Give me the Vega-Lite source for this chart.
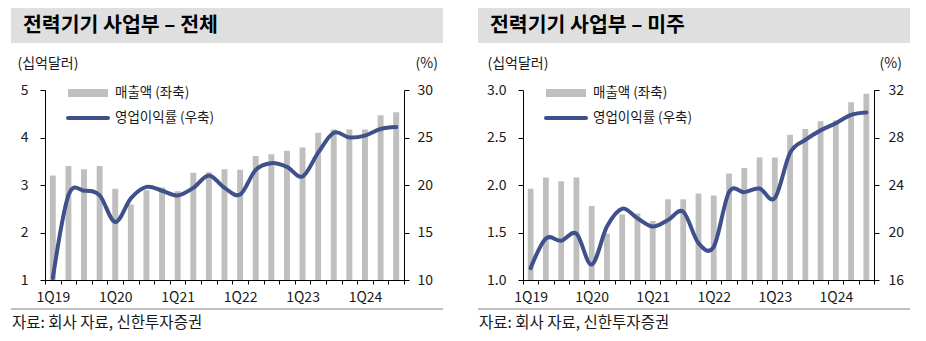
{
  "$schema": "https://vega.github.io/schema/vega-lite/v6.json",
  "padding": {"left": 11, "top": 8, "right": 5, "bottom": 5},
  "autosize": {"type": "pad"},
  "config": {
    "font": "Noto Sans CJK KR",
    "view": {"stroke": null},
    "axis": {"grid": false, "domainColor": "#000000", "tickColor": "#000000", "labelColor": "#1a1a1a", "titleColor": "#1a1a1a", "titleFontWeight": "normal", "labelFontSize": 14, "titleFontSize": 14}
  },
  "datasets": {
    "total": [
      {"q": "1Q19", "sales": 3.20, "margin": 10.2},
      {"q": "2Q19", "sales": 3.40, "margin": 18.9},
      {"q": "3Q19", "sales": 3.33, "margin": 19.4},
      {"q": "4Q19", "sales": 3.40, "margin": 18.9},
      {"q": "1Q20", "sales": 2.92, "margin": 16.1},
      {"q": "2Q20", "sales": 2.59, "margin": 18.6},
      {"q": "3Q20", "sales": 2.89, "margin": 19.8},
      {"q": "4Q20", "sales": 2.95, "margin": 19.4},
      {"q": "1Q21", "sales": 2.87, "margin": 18.9},
      {"q": "2Q21", "sales": 3.26, "margin": 19.7},
      {"q": "3Q21", "sales": 3.27, "margin": 21.0},
      {"q": "4Q21", "sales": 3.33, "margin": 19.7},
      {"q": "1Q22", "sales": 3.32, "margin": 19.0},
      {"q": "2Q22", "sales": 3.61, "margin": 21.6},
      {"q": "3Q22", "sales": 3.65, "margin": 22.3},
      {"q": "4Q22", "sales": 3.72, "margin": 21.9},
      {"q": "1Q23", "sales": 3.79, "margin": 20.9},
      {"q": "2Q23", "sales": 4.10, "margin": 23.4},
      {"q": "3Q23", "sales": 4.17, "margin": 25.5},
      {"q": "4Q23", "sales": 4.17, "margin": 25.0},
      {"q": "1Q24", "sales": 4.17, "margin": 25.2},
      {"q": "2Q24", "sales": 4.47, "margin": 25.9},
      {"q": "3Q24", "sales": 4.53, "margin": 26.1}
    ],
    "us": [
      {"q": "1Q19", "sales": 1.96, "margin": 17.0},
      {"q": "2Q19", "sales": 2.08, "margin": 19.5},
      {"q": "3Q19", "sales": 2.04, "margin": 19.3},
      {"q": "4Q19", "sales": 2.08, "margin": 19.9},
      {"q": "1Q20", "sales": 1.78, "margin": 17.3},
      {"q": "2Q20", "sales": 1.49, "margin": 20.5},
      {"q": "3Q20", "sales": 1.69, "margin": 22.0},
      {"q": "4Q20", "sales": 1.70, "margin": 21.2},
      {"q": "1Q21", "sales": 1.62, "margin": 20.5},
      {"q": "2Q21", "sales": 1.85, "margin": 21.05},
      {"q": "3Q21", "sales": 1.85, "margin": 21.75},
      {"q": "4Q21", "sales": 1.91, "margin": 19.1},
      {"q": "1Q22", "sales": 1.89, "margin": 18.8},
      {"q": "2Q22", "sales": 2.12, "margin": 23.4},
      {"q": "3Q22", "sales": 2.18, "margin": 23.4},
      {"q": "4Q22", "sales": 2.29, "margin": 23.7},
      {"q": "1Q23", "sales": 2.29, "margin": 22.9},
      {"q": "2Q23", "sales": 2.53, "margin": 26.7},
      {"q": "3Q23", "sales": 2.59, "margin": 27.8},
      {"q": "4Q23", "sales": 2.67, "margin": 28.6},
      {"q": "1Q24", "sales": 2.68, "margin": 29.2},
      {"q": "2Q24", "sales": 2.87, "margin": 29.9},
      {"q": "3Q24", "sales": 2.96, "margin": 30.1}
    ]
  },
  "spacing": 35,
  "resolve": {"scale": {"color": "independent"}, "legend": {"color": "independent"}},
  "hconcat": [
    {
      "concat": [
        {
          "width": 432, "height": 35,
          "view": {"fill": "#dfdfdf", "stroke": null},
          "data": {"values": []},
          "mark": "point", "encoding": {},
          "title": {"text": "전력기기 사업부 – 전체", "anchor": "start", "frame": "group", "orient": "top", "offset": -38, "dx": 12, "baseline": "middle", "fontSize": 20.5, "fontWeight": "bold", "color": "#000000"}
        },
        {
          "concat": [
            {
              "hconcat": [
                {"width": 6, "height": 1, "view": {"fill": "#ffffff", "stroke": null}, "data": {"values": []}, "mark": "point", "encoding": {}},
                {
                  "width": 359, "height": 190,
                  "data": {"name": "total"},
                  "encoding": {
                    "x": {"field": "q", "type": "ordinal",
                      "sort": ["1Q19","2Q19","3Q19","4Q19","1Q20","2Q20","3Q20","4Q20","1Q21","2Q21","3Q21","4Q21","1Q22","2Q22","3Q22","4Q22","1Q23","2Q23","3Q23","4Q23","1Q24","2Q24","3Q24"],
                      "scale": {"paddingInner": 0, "paddingOuter": 0},
                      "axis": {"title": null, "labelAngle": 0, "tickBand": "extent", "tickSize": 4, "labelPadding": 6, "labelOverlap": false, "labelExpr": "indexof(datum.label, '1Q') === 0 ? datum.label : ''"}}
                  },
                  "layer": [
                    {
                      "mark": {"type": "bar", "width": {"band": 0.38}, "clip": true},
                      "encoding": {
                        "y": {"field": "sales", "type": "quantitative", "scale": {"domain": [1, 5], "zero": false},
                          "axis": {"orient": "left", "values": [1, 2, 3, 4, 5], "tickSize": 5, "labelPadding": 12, "title": "(십억달러)", "titleAngle": 0, "titleAlign": "left", "titleBaseline": "middle", "titleX": -28, "titleY": -27}},
                        "color": {"datum": "매출액 (좌축)", "type": "nominal",
                          "scale": {"domain": ["매출액 (좌축)", "영업이익률 (우축)"], "range": ["#bfbfbf", "#40508a"]},
                          "legend": {"orient": "none", "legendX": 21, "legendY": -4.5, "title": null, "direction": "vertical", "symbolType": "stroke", "symbolSize": 1600, "symbolStrokeWidth": 4, "labelFontSize": 13.5, "labelColor": "#1a1a1a", "labelOffset": 5, "rowPadding": 10, "clipHeight": 15, "padding": 0,
                            "encode": {"symbols": {"update": {
                              "stroke": {"signal": "(datum.value === '매출액 (좌축)' ? '#bfbfbf' : '#40508a')"},
                              "strokeWidth": {"signal": "(datum.value === '매출액 (좌축)' ? 8 : 4)"},
                              "strokeCap": {"signal": "(datum.value === '매출액 (좌축)' ? 'butt' : 'round')"},
                              "fill": {"value": "transparent"},
                              "opacity": {"value": 1}}}}}}
                      }
                    },
                    {
                      "mark": {"type": "line", "interpolate": "cardinal", "strokeWidth": 4, "strokeCap": "round"},
                      "encoding": {
                        "y": {"field": "margin", "type": "quantitative", "scale": {"domain": [10, 30], "zero": false},
                          "axis": {"orient": "right", "values": [10, 15, 20, 25, 30], "tickSize": 5, "labelPadding": 8, "title": "(%)", "titleAngle": 0, "titleAlign": "left", "titleBaseline": "middle", "titleX": 11, "titleY": -27}},
                        "color": {"datum": "영업이익률 (우축)", "type": "nominal"}
                      }
                    }
                  ],
                  "resolve": {"scale": {"y": "independent"}}
                }
              ],
              "spacing": 0,
              "resolve": {"scale": {"color": "independent"}, "legend": {"color": "independent"}}
            },
            {
              "width": 432, "height": 2,
              "view": {"fill": "#c0c0c0", "stroke": null},
              "data": {"values": []},
              "mark": "point", "encoding": {},
              "title": {"text": "자료: 회사 자료, 신한투자증권", "orient": "bottom", "anchor": "start", "frame": "group", "offset": 13, "dx": 1, "baseline": "middle", "fontSize": 15.5, "fontWeight": "normal", "color": "#1a1a1a"}
            }
          ],
          "columns": 1, "align": "none", "spacing": 4,
          "resolve": {"scale": {"color": "independent"}, "legend": {"color": "independent"}}
        }
      ],
      "columns": 1, "align": "none", "spacing": 13,
      "resolve": {"scale": {"color": "independent"}, "legend": {"color": "independent"}}
    },
    {
      "concat": [
        {
          "width": 432, "height": 35,
          "view": {"fill": "#dfdfdf", "stroke": null},
          "data": {"values": []},
          "mark": "point", "encoding": {},
          "title": {"text": "전력기기 사업부 – 미주", "anchor": "start", "frame": "group", "orient": "top", "offset": -38, "dx": 12, "baseline": "middle", "fontSize": 20.5, "fontWeight": "bold", "color": "#000000"}
        },
        {
          "concat": [
            {
              "hconcat": [
                {"width": 8, "height": 1, "view": {"fill": "#ffffff", "stroke": null}, "data": {"values": []}, "mark": "point", "encoding": {}},
                {
                  "width": 351, "height": 190,
                  "data": {"name": "us"},
                  "encoding": {
                    "x": {"field": "q", "type": "ordinal",
                      "sort": ["1Q19","2Q19","3Q19","4Q19","1Q20","2Q20","3Q20","4Q20","1Q21","2Q21","3Q21","4Q21","1Q22","2Q22","3Q22","4Q22","1Q23","2Q23","3Q23","4Q23","1Q24","2Q24","3Q24"],
                      "scale": {"paddingInner": 0, "paddingOuter": 0},
                      "axis": {"title": null, "labelAngle": 0, "tickBand": "extent", "tickSize": 4, "labelPadding": 6, "labelOverlap": false, "labelExpr": "indexof(datum.label, '1Q') === 0 ? datum.label : ''"}}
                  },
                  "layer": [
                    {
                      "mark": {"type": "bar", "width": {"band": 0.38}, "clip": true},
                      "encoding": {
                        "y": {"field": "sales", "type": "quantitative", "scale": {"domain": [1, 3], "zero": false},
                          "axis": {"orient": "left", "values": [1, 1.5, 2, 2.5, 3], "format": ".1f", "tickSize": 5, "labelPadding": 12, "title": "(십억달러)", "titleAngle": 0, "titleAlign": "left", "titleBaseline": "middle", "titleX": -36, "titleY": -27}},
                        "color": {"datum": "매출액 (좌축)", "type": "nominal",
                          "scale": {"domain": ["매출액 (좌축)", "영업이익률 (우축)"], "range": ["#bfbfbf", "#40508a"]},
                          "legend": {"orient": "none", "legendX": 21, "legendY": -4.5, "title": null, "direction": "vertical", "symbolType": "stroke", "symbolSize": 1600, "symbolStrokeWidth": 4, "labelFontSize": 13.5, "labelColor": "#1a1a1a", "labelOffset": 5, "rowPadding": 10, "clipHeight": 15, "padding": 0,
                            "encode": {"symbols": {"update": {
                              "stroke": {"signal": "(datum.value === '매출액 (좌축)' ? '#bfbfbf' : '#40508a')"},
                              "strokeWidth": {"signal": "(datum.value === '매출액 (좌축)' ? 8 : 4)"},
                              "strokeCap": {"signal": "(datum.value === '매출액 (좌축)' ? 'butt' : 'round')"},
                              "fill": {"value": "transparent"},
                              "opacity": {"value": 1}}}}}}
                      }
                    },
                    {
                      "mark": {"type": "line", "interpolate": "cardinal", "strokeWidth": 4, "strokeCap": "round"},
                      "encoding": {
                        "y": {"field": "margin", "type": "quantitative", "scale": {"domain": [16, 32], "zero": false},
                          "axis": {"orient": "right", "values": [16, 20, 24, 28, 32], "tickSize": 5, "labelPadding": 9, "title": "(%)", "titleAngle": 0, "titleAlign": "left", "titleBaseline": "middle", "titleX": 5, "titleY": -27}},
                        "color": {"datum": "영업이익률 (우축)", "type": "nominal"}
                      }
                    }
                  ],
                  "resolve": {"scale": {"y": "independent"}}
                }
              ],
              "spacing": 0,
              "resolve": {"scale": {"color": "independent"}, "legend": {"color": "independent"}}
            },
            {
              "width": 432, "height": 2,
              "view": {"fill": "#c0c0c0", "stroke": null},
              "data": {"values": []},
              "mark": "point", "encoding": {},
              "title": {"text": "자료: 회사 자료, 신한투자증권", "orient": "bottom", "anchor": "start", "frame": "group", "offset": 13, "dx": 1, "baseline": "middle", "fontSize": 15.5, "fontWeight": "normal", "color": "#1a1a1a"}
            }
          ],
          "columns": 1, "align": "none", "spacing": 4,
          "resolve": {"scale": {"color": "independent"}, "legend": {"color": "independent"}}
        }
      ],
      "columns": 1, "align": "none", "spacing": 13,
      "resolve": {"scale": {"color": "independent"}, "legend": {"color": "independent"}}
    }
  ]
}
